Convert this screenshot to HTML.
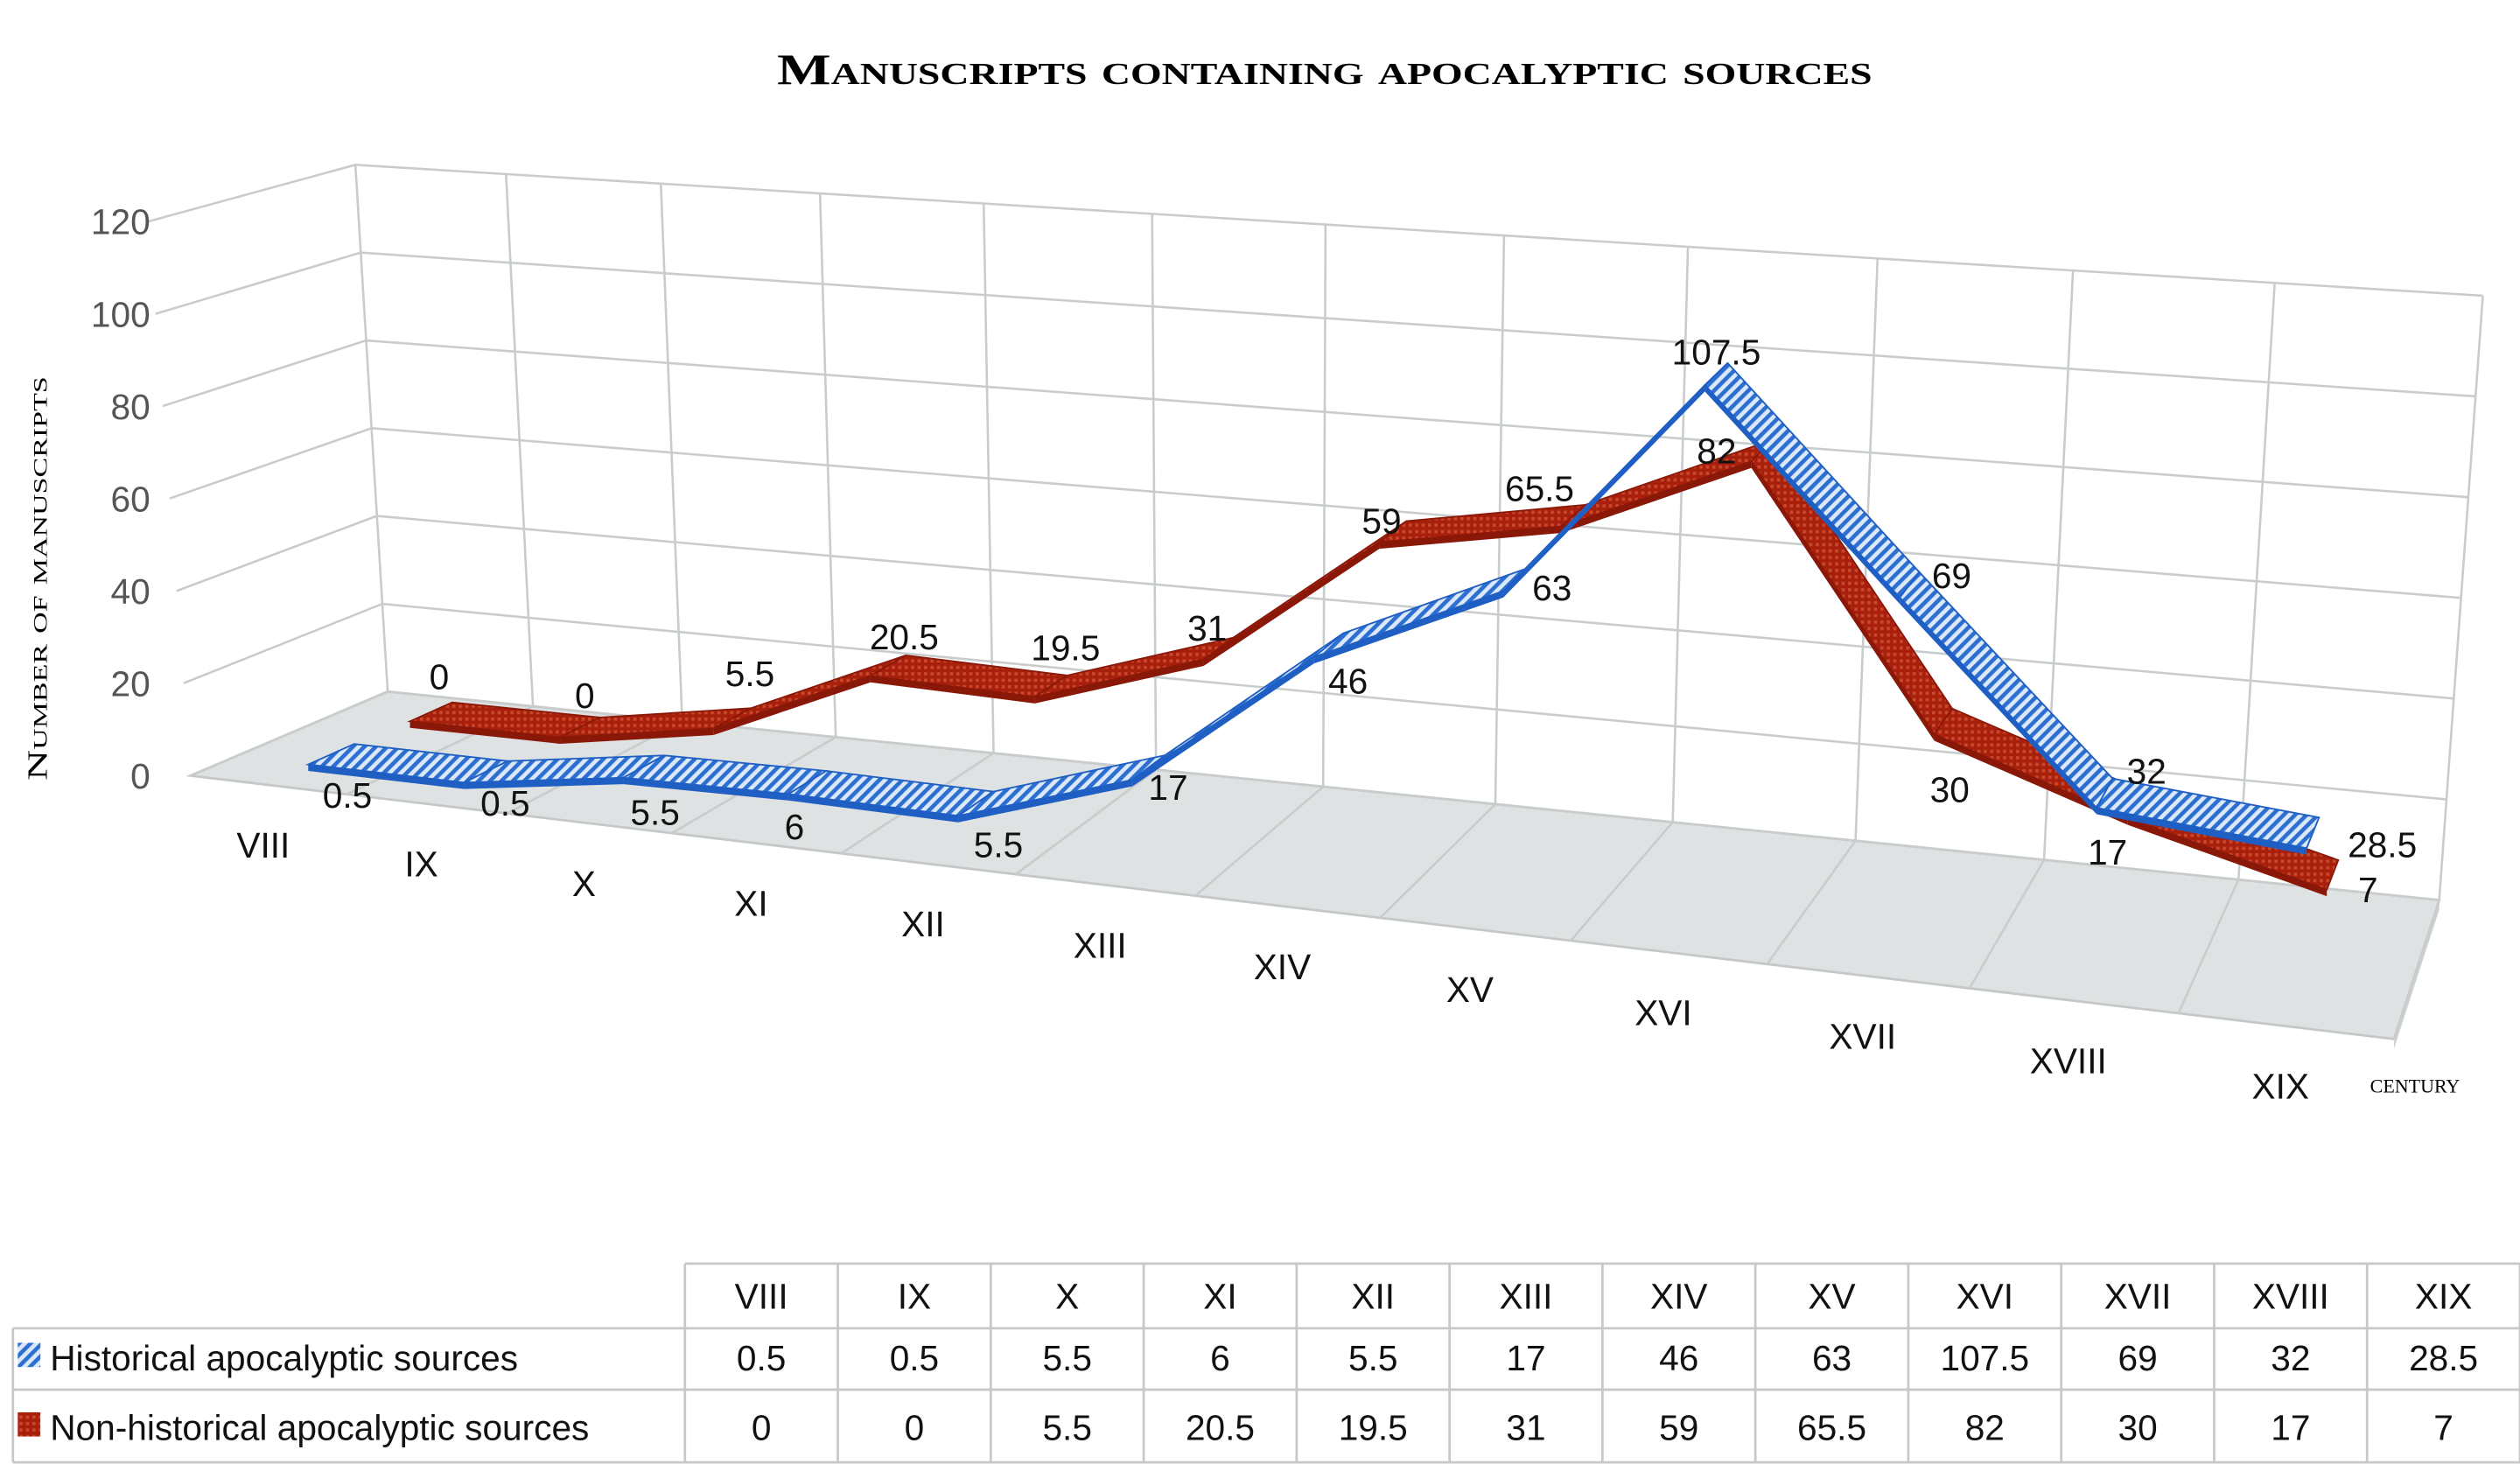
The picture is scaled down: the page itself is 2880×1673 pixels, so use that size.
<!DOCTYPE html>
<html><head><meta charset="utf-8"><style>
html,body{margin:0;padding:0;background:#fff;}
svg{display:block;}
text{font-family:"Liberation Sans",sans-serif;}
</style></head><body>
<svg id="chart" width="2880" height="1673" viewBox="0 0 1560 906" preserveAspectRatio="none" xmlns="http://www.w3.org/2000/svg">
<defs>
<pattern id="bluePat" patternUnits="userSpaceOnUse" width="5" height="5" patternTransform="rotate(45)">
<rect width="5" height="5" fill="#dbe8f8"/><rect width="2.5" height="5" fill="#2d6fd0"/></pattern>
<pattern id="redPat" patternUnits="userSpaceOnUse" width="4" height="4">
<rect width="4" height="4" fill="#a8200c"/><rect width="2" height="2" fill="#c8482c"/></pattern>
</defs>
<text x="820" y="52" text-anchor="middle" font-family="Liberation Serif" font-weight="bold" font-size="27" style="font-family:'Liberation Serif',serif;font-variant:small-caps" textLength="678" lengthAdjust="spacingAndGlyphs">Manuscripts containing apocalyptic sources</text>
<g id="plot"></g>
<text transform="translate(29,358) rotate(-90)" text-anchor="middle" font-size="17" style="font-family:'Liberation Serif',serif;font-variant:small-caps" textLength="250" lengthAdjust="spacingAndGlyphs">Number of manuscripts</text>
<text x="1495" y="676" text-anchor="middle" font-size="17" style="font-family:'Liberation Serif',serif;font-variant:small-caps">century</text>
<g id="table"></g>
</svg>
<script>
const categories=["VIII","IX","X","XI","XII","XIII","XIV","XV","XVI","XVII","XVIII","XIX"];
const historical=[0.5,0.5,5.5,6,5.5,17,46,63,107.5,69,32,28.5];
const nonHistorical=[0,0,5.5,20.5,19.5,31,59,65.5,82,30,17,7];
const yTicks=[0,20,40,60,80,100,120];
const seriesNames=["Historical apocalyptic sources","Non-historical apocalyptic sources"];

const NS="http://www.w3.org/2000/svg";
const c0={FL:[118,480],FR:[1482,643],BL:[240,428],BR:[1510,557]};
const c1={FL:[92,137],FR:[1512,247],BL:[220,102],BR:[1537,183]};
const VMAX=120;
function bil(c,f,d,i){const fr=c.FL[i]*(1-f)+c.FR[i]*f, bk=c.BL[i]*(1-f)+c.BR[i]*f;return fr*(1-d)+bk*d;}
function proj(f,d,v){const a=v/VMAX;return [bil(c0,f,d,0)*(1-a)+bil(c1,f,d,0)*a, bil(c0,f,d,1)*(1-a)+bil(c1,f,d,1)*a];}
function fx(c){const t=c/categories.length;return t/(1+0.193*(1-t));}
function el(tag,attrs,parent){const e=document.createElementNS(NS,tag);for(const k in attrs)e.setAttribute(k,attrs[k]);parent.appendChild(e);return e;}
const plot=document.getElementById('plot');
const pts=a=>a.map(p=>p[0].toFixed(1)+','+p[1].toFixed(1)).join(' ');
const N=categories.length;

const floor=el('polygon',{points:pts([proj(0,0,0),proj(1,0,0),proj(1,1,0),proj(0,1,0)]),fill:'#dfe2e2',stroke:'#c4c8c8','stroke-width':1.5},plot);


const slab=el('polygon',{points:pts([proj(1,0,0),proj(1,1,0),[proj(1,1,0)[0],proj(1,1,0)[1]+6],[proj(1,0,0)[0],proj(1,0,0)[1]+6]]),fill:'#cdd1d1'},plot);


const gs={stroke:'#c8cccc','stroke-width':1.4};
for(let k=0;k<=N;k++){
  const f=fx(k);
  const a=proj(f,0,0),b=proj(f,1,0);
  const l=el('line',Object.assign({x1:a[0],y1:a[1],x2:b[0],y2:b[1]},gs),plot);
  
  
  const c=proj(f,1,VMAX);
  const w=el('line',Object.assign({x1:b[0],y1:b[1],x2:c[0],y2:c[1]},gs),plot);
  
  
}
yTicks.forEach(v=>{
  const a=proj(0,0,v),b=proj(0,1,v),c=proj(1,1,v);
  const l=el('polyline',Object.assign({points:pts([a,b,c]),fill:'none'},gs),plot);
  
  
  const t=el('text',{x:93,y:a[1]+8,'text-anchor':'end','font-size':22,fill:'#555'},plot);
  t.textContent=v;
  
  
});
categories.forEach((c,i)=>{
  const p=proj(fx(i+0.5),0,0);
  const t=el('text',{x:p[0]-3,y:p[1]+45,'text-anchor':'middle','font-size':22,fill:'#111'},plot);
  t.textContent=c;
  
  
});

function ribbon(vals,d1,d2,fill,edge,name){
  const g=el('g',{},plot);
  
  
  for(let i=0;i<vals.length-1;i++){
    const fa=fx(i+0.5),fb=fx(i+1.5);
    const q=[proj(fa,d2,vals[i]),proj(fb,d2,vals[i+1]),proj(fb,d1,vals[i+1]),proj(fa,d1,vals[i])];
    const side=[proj(fa,d1,vals[i]),proj(fb,d1,vals[i+1]),[proj(fb,d1,vals[i+1])[0],proj(fb,d1,vals[i+1])[1]+4],[proj(fa,d1,vals[i])[0],proj(fa,d1,vals[i])[1]+4]];
    const s=el('polygon',{points:pts(side),fill:edge},g);
    
    
    const p=el('polygon',{points:pts(q),fill:fill,stroke:edge,'stroke-width':1},g);
    
    
  }
  return g;
}
ribbon(nonHistorical,0.74,0.96,'url(#redPat)','#8a1808','series-non-historical');
ribbon(historical,0.21,0.45,'url(#bluePat)','#1f5fc4','series-historical');

const blueOff=[[10,25],[12,19],[7,28],[-8,27],[14,25],[12,12],[12,22],[22,5],[0,-14],[26,-6],[26,-14],[43,7]];
const redOff=[[5,-22],[3,-20],[11,-28],[10,-18],[9,-24],[-7,-13],[-7,-7],[-21,-17],[-28,0],[4,42],[-17,29],[22,9]];
function labels(vals,d,off,name){
  vals.forEach((v,i)=>{
    const p=proj(fx(i+0.5),d,v);
    const t=el('text',{x:p[0]+off[i][0],y:p[1]+off[i][1]+8,'text-anchor':'middle','font-size':22,fill:'#111'},plot);
    t.textContent=v;
    
    
  });
}
labels(historical,0.33,blueOff,'historical-data-label');
labels(nonHistorical,0.85,redOff,'non-historical-data-label');

const tb=document.getElementById('table');
const colX0=424,colW=(1560-424)/12;
const rowY=[782,822,860,905];
const ls={stroke:'#c8c8c8','stroke-width':1.5};
[[colX0,rowY[0]],[8,rowY[1]],[8,rowY[2]],[8,rowY[3]]].forEach(([x,y])=>{
  const l=el('line',Object.assign({x1:x,y1:y,x2:1560,y2:y},ls),tb);
  
  
});
for(let k=0;k<=12;k++){
  const l=el('line',Object.assign({x1:colX0+k*colW,y1:rowY[0],x2:colX0+k*colW,y2:rowY[3]},ls),tb);
  
  
}
const l0=el('line',Object.assign({x1:8,y1:rowY[1],x2:8,y2:rowY[3]},ls),tb);


categories.forEach((c,i)=>{
  const t=el('text',{x:colX0+(i+0.5)*colW,y:810,'text-anchor':'middle','font-size':22,fill:'#111'},tb);
  t.textContent=c;
  
  
});
[historical,nonHistorical].forEach((vals,r)=>{
  const y=r===0?848:891;
  vals.forEach((v,i)=>{
    const t=el('text',{x:colX0+(i+0.5)*colW,y:y,'text-anchor':'middle','font-size':22,fill:'#111'},tb);
    t.textContent=v;
    
    
  });
  const key=el('rect',{x:11,y:y-17,width:14,height:15,fill:r===0?'url(#bluePat)':'url(#redPat)'},tb);
  
  
  const t=el('text',{x:31,y:y,'font-size':22,fill:'#111'},tb);
  t.textContent=seriesNames[r];
  
  
});
</script>
</body></html>
